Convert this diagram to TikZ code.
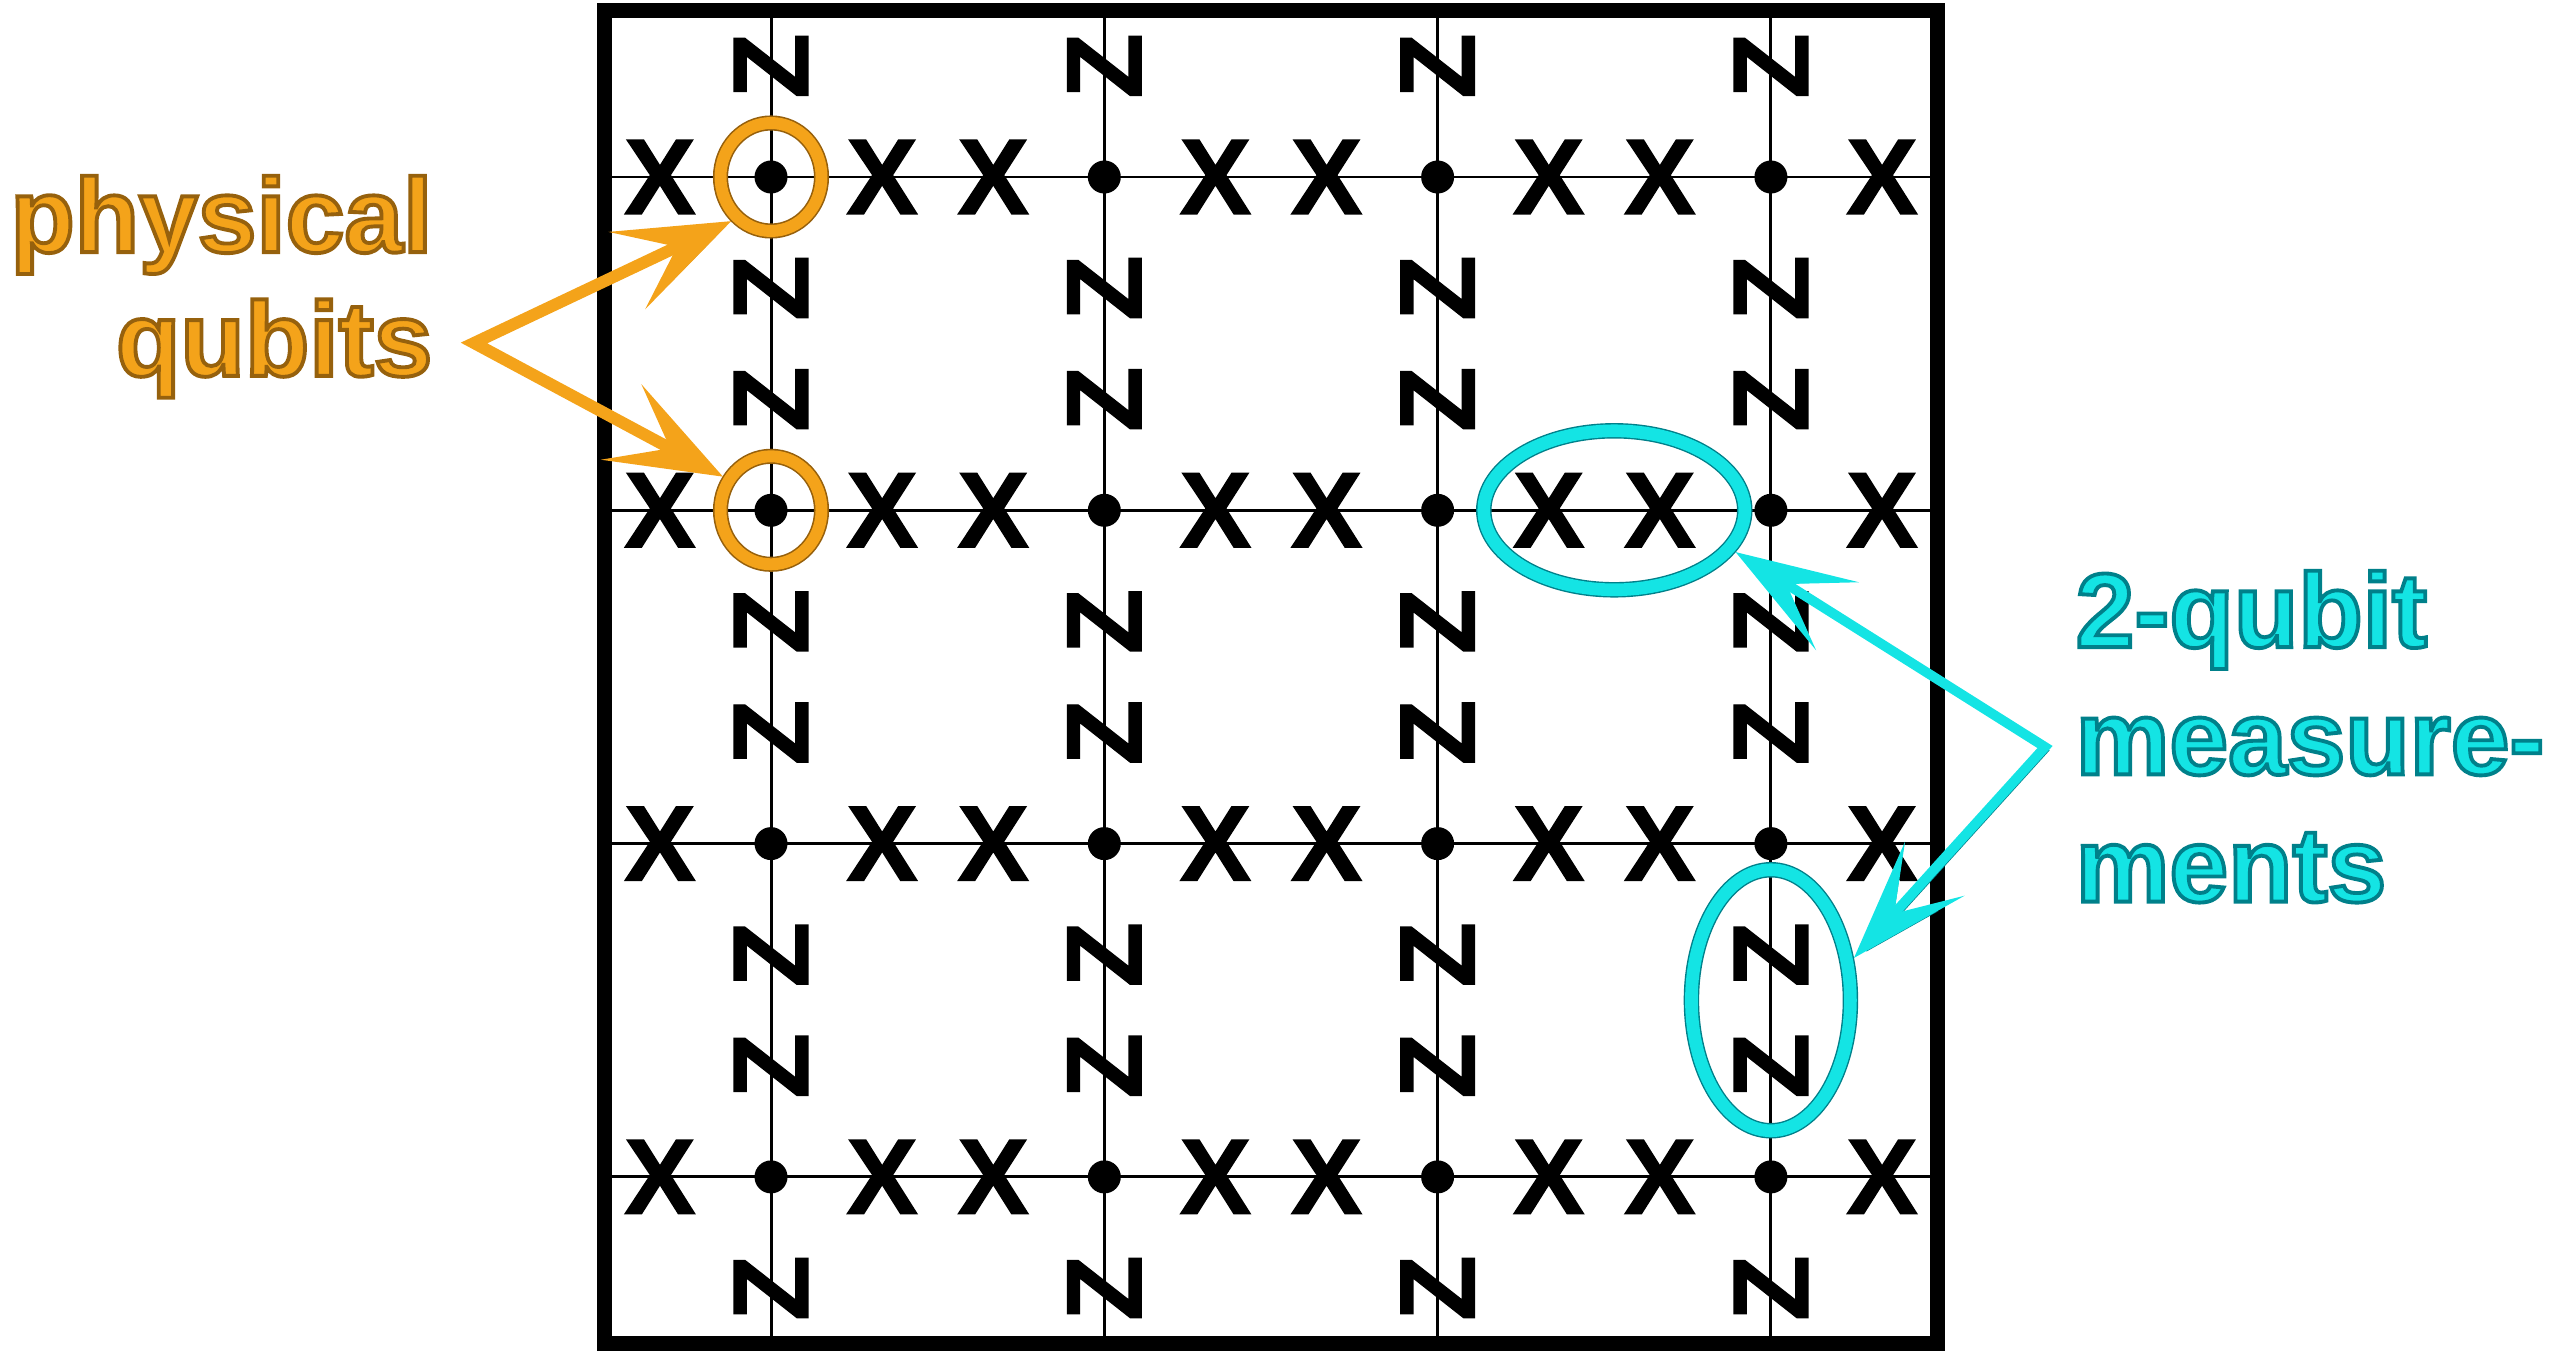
\documentclass[tikz,border=0pt]{standalone}
\usepackage{fontspec}
\setmainfont{Liberation Sans}
\newfontfamily\opfont[FakeBold=1.3]{Liberation Sans Bold}
\usetikzlibrary{arrows.meta,shapes.geometric,calc}
\definecolor{ink}{HTML}{000000}
\definecolor{qorange}{RGB}{244,163,26}
\definecolor{qorangedk}{RGB}{150,96,12}
\definecolor{qcyan}{RGB}{20,228,228}
\definecolor{qcyandk}{RGB}{0,128,138}
% outlined letters: fill in text colour, rim in #1
\newcommand\rimtext[2]{{\special{pdf:literal direct #1 RG 1.1 w 2 Tr}#2\special{pdf:literal direct 0 Tr}}}
\tikzset{
  every node/.style={text=ink},
  orhead/.tip={Stealth[length=11.5mm,width=8.5mm,inset=5.5mm]},
  cyhead/.tip={Stealth[length=12mm,width=8mm,inset=6mm]},
  frame/.style={draw=ink,line width=4.3pt,minimum size=133.33mm,inner sep=0pt,outer sep=0pt},
  link/.style={draw=ink,line width=0.85pt},
  qdot/.style={circle,fill=ink,minimum size=3.3mm,inner sep=0pt},
  xop/.style={font={\opfont\fontsize{30.5}{30.5}\selectfont},inner sep=0pt},
  zop/.style={xop,rotate=90},
  ring/.style={ellipse,draw=qorangedk,double=qorange,double distance=3.4pt,line width=0.45pt,
    minimum width=10.1mm,minimum height=10.8mm,inner sep=0pt,outer sep=2pt},
  pairh/.style={ellipse,draw=qcyandk,double=qcyan,double distance=3.6pt,line width=0.4pt,
    minimum width=26.1mm,minimum height=15.9mm,inner sep=0pt,outer sep=2.2pt},
  pairv/.style={pairh,minimum width=15.9mm,minimum height=26.1mm},
  orarrow/.style={orhead-orhead,line width=3.4pt,draw=qorange,line join=miter,
    preaction={draw=qorangedk,transform canvas={shift={(1pt,-1pt)}}}},
  cyarrow/.style={cyhead-cyhead,line width=2.8pt,draw=qcyan,line join=miter,
    preaction={draw=qcyandk,transform canvas={shift={(1pt,-1pt)}}}},
  physlbl/.style={font=\fontsize{30}{35.2}\selectfont\bfseries,text=qorange,align=right,inner sep=0pt},
  measlbl/.style={font=\fontsize{30}{36.2}\selectfont\bfseries,text=qcyan,align=left,inner sep=0pt},
}
\begin{document}
\begin{tikzpicture}
\useasboundingbox (0,0) rectangle (25.5,13.53);
\node[frame] (frame) at (12.71,6.76) {};
\foreach \i in {0,...,3}
  \foreach \j in {0,...,3}
    \coordinate (g-\i-\j) at (7.71+3.333*\i,11.76-3.333*\j);
% lattice links
\foreach \j in {0,...,3}
  \draw[link] (frame.west |- g-0-\j) -- (frame.east |- g-0-\j);
\foreach \i in {0,...,3}
  \draw[link] (frame.north -| g-\i-0) -- (frame.south -| g-\i-0);
% qubits, X on the rows, Z on the columns
\foreach \i in {0,...,3}
  \foreach \j in {0,...,3} {
    \node[qdot] (q-\i-\j) at (g-\i-\j) {};
    \node[xop] (xw-\i-\j) at ($(g-\i-\j)+(-1.111,0)$) {X};
    \node[xop] (xe-\i-\j) at ($(g-\i-\j)+(1.111,0)$) {X};
    \node[zop] (zn-\i-\j) at ($(g-\i-\j)+(0,1.111)$) {Z};
    \node[zop] (zs-\i-\j) at ($(g-\i-\j)+(0,-1.111)$) {Z};
  }
\node[ring] (ringA) at (g-0-0) {};
\node[ring] (ringB) at (g-0-1) {};
\node[pairh] (pairxx) at ($(g-2-1)!0.53!(g-3-1)$) {};
\node[pairv] (pairzz) at ($(g-3-2)!0.47!(g-3-3)$) {};
% labels
\node[physlbl,anchor=north east] (physlbl) at (4.33,11.78)
  {\rimtext{0.59 0.38 0.05}{physical}\\\rimtext{0.59 0.38 0.05}{qubits}};
\node[measlbl,anchor=north west] (measlbl) at (20.75,7.83)
  {\rimtext{0 0.5 0.54}{2-qubit}\\\rimtext{0 0.5 0.54}{measure-}\\\rimtext{0 0.5 0.54}{ments}};
\coordinate (physfork) at (4.74,10.10);
\coordinate (measfork) at (20.45,6.06);
\draw[orarrow] (ringB.145) -- (physfork) -- (ringA.228);
\draw[cyarrow] (pairxx.341) -- (measfork) -- (pairzz.27);
\end{tikzpicture}
\end{document}
